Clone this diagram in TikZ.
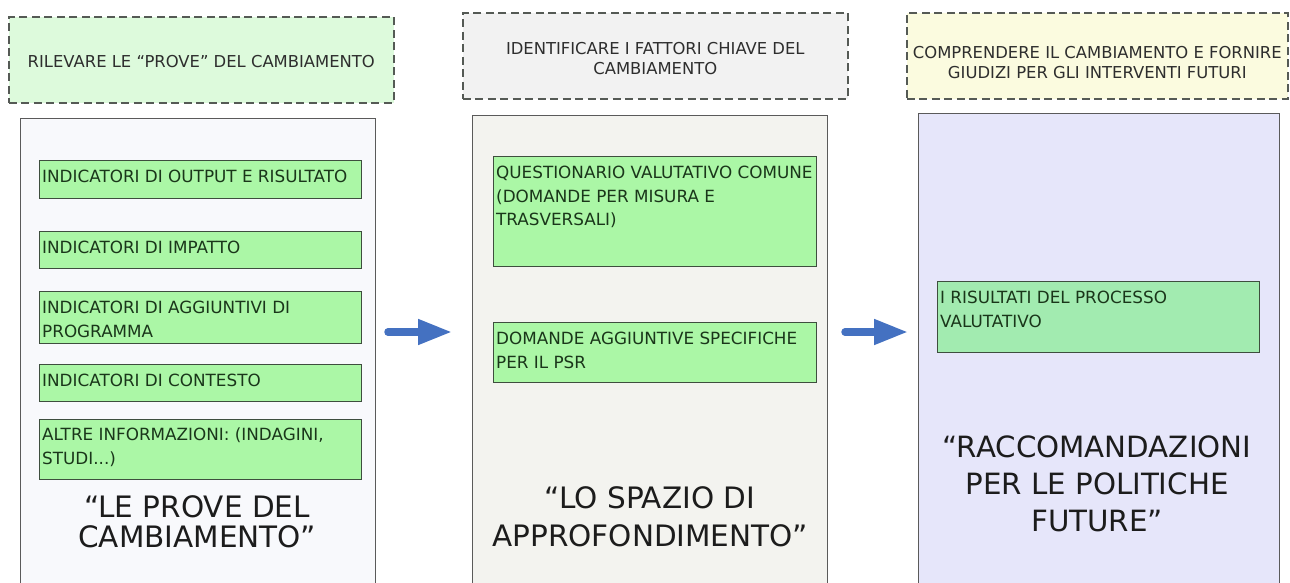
\documentclass[tikz,border=0pt]{standalone}
\usepackage{fontspec}
\setmainfont{DejaVu Sans}
\usetikzlibrary{arrows.meta,calc}
\definecolor{gfill}{HTML}{ABF7A6}
\definecolor{gfillb}{HTML}{A2EBB0}
\definecolor{gborder}{HTML}{3E4E3E}
\definecolor{gtextc}{HTML}{1A361A}
\definecolor{mborder}{HTML}{5A5A5A}
\definecolor{mfillA}{HTML}{F8F9FC}
\definecolor{mfillB}{HTML}{F3F3EF}
\definecolor{mfillC}{HTML}{E6E6FA}
\definecolor{tfillA}{HTML}{DDFADC}
\definecolor{tfillB}{HTML}{F2F2F2}
\definecolor{tfillC}{HTML}{FBFBDF}
\definecolor{tborder}{HTML}{555A55}
\definecolor{ttext}{HTML}{2E2E2E}
\definecolor{btext}{HTML}{1C1C1C}
\definecolor{arrblue}{HTML}{4471C1}
\tikzset{
  x=1pt, y=-1pt,
  titlebox/.style={draw=tborder, line width=1.6pt, dash pattern=on 8pt off 4.5pt, anchor=north west, inner sep=0pt},
  titletext/.style={align=center, text=ttext, inner sep=0pt, font=\fontsize{16.4}{20}\selectfont},
  mainbox/.style={draw=mborder, line width=1.3pt, anchor=north west, inner sep=0pt},
  gbox/.style={draw=gborder, fill=gfill, line width=1.1pt, anchor=north west, inner sep=0pt},
  gtext/.style={anchor=north west, inner sep=0pt, align=left, text=gtextc, font=\fontsize{16.8}{23.5}\selectfont},
  bigtext/.style={align=center, text=btext, inner sep=0pt},
  flowarrow/.style={draw=arrblue, line width=7.5pt, line cap=round, -{Triangle[length=34pt,width=24pt]}},
}
\begin{document}
\begin{tikzpicture}
\useasboundingbox (0,0) rectangle (1290,583);
\fill[white] (0,0) rectangle (1290,583);
% top dashed boxes
\node[titlebox, fill=tfillA, minimum width=385, minimum height=86] (t1) at (8,16) {};
\node[titlebox, fill=tfillB, minimum width=385, minimum height=86] (t2) at (462,12) {};
\node[titlebox, fill=tfillC, minimum width=381, minimum height=86] (t3) at (906,12) {};
\node[titletext] (tt1) at ($(t1.center)+(0,2)$) {RILEVARE LE “PROVE” DEL CAMBIAMENTO};
\node[titletext] (tt2) at ($(t2.center)+(0,3)$) {IDENTIFICARE I FATTORI CHIAVE DEL\\CAMBIAMENTO};
\node[titletext] (tt3) at ($(t3.center)+(0,7)$) {COMPRENDERE IL CAMBIAMENTO E FORNIRE\\GIUDIZI PER GLI INTERVENTI FUTURI};
% main boxes
\node[mainbox, fill=mfillA, minimum width=355, minimum height=470] (m1) at (20,118) {};
\node[mainbox, fill=mfillB, minimum width=355, minimum height=473] (m2) at (472,115) {};
\node[mainbox, fill=mfillC, minimum width=361, minimum height=475] (m3) at (918,113) {};
% panel 1 green boxes
\node[gbox, minimum width=322, minimum height=38] (a1) at (39,160) {};
\node[gbox, minimum width=322, minimum height=37] (a2) at (39,231) {};
\node[gbox, minimum width=322, minimum height=52] (a3) at (39,291) {};
\node[gbox, minimum width=322, minimum height=37] (a4) at (39,364) {};
\node[gbox, minimum width=322, minimum height=60] (a5) at (39,419) {};
\node[gtext] (a1t) at ($(a1.north west)+(3,10)$) {INDICATORI DI OUTPUT E RISULTATO};
\node[gtext] (a2t) at ($(a2.north west)+(3,10)$) {INDICATORI DI IMPATTO};
\node[gtext] (a3t) at ($(a3.north west)+(3,10)$) {INDICATORI DI AGGIUNTIVI DI\\PROGRAMMA};
\node[gtext] (a4t) at ($(a4.north west)+(3,10)$) {INDICATORI DI CONTESTO};
\node[gtext] (a5t) at ($(a5.north west)+(3,9)$) {ALTRE INFORMAZIONI: (INDAGINI,\\STUDI...)};
\node[bigtext, font=\fontsize{29.5}{30}\selectfont] (b1) at (197,522) {“LE PROVE DEL\\CAMBIAMENTO”};
% panel 2 green boxes
\node[gbox, minimum width=323, minimum height=110] (c1) at (493,156) {};
\node[gbox, minimum width=323, minimum height=60] (c2) at (493,322) {};
\node[gtext] (c1t) at ($(c1.north west)+(3,10)$) {QUESTIONARIO VALUTATIVO COMUNE\\(DOMANDE PER MISURA E\\TRASVERSALI)};
\node[gtext] (c2t) at ($(c2.north west)+(3,10)$) {DOMANDE AGGIUNTIVE SPECIFICHE\\PER IL PSR};
\node[bigtext, font=\fontsize{29.5}{38}\selectfont] (b2) at (650,517) {“LO SPAZIO DI\\APPROFONDIMENTO”};
% panel 3
\node[gbox, fill=gfillb, minimum width=322, minimum height=71] (e1) at (937,281) {};
\node[gtext] (e1t) at ($(e1.north west)+(3,10)$) {I RISULTATI DEL PROCESSO\\VALUTATIVO};
\node[bigtext, font=\fontsize{29.3}{37}\selectfont] (b3) at (1097,484) {“RACCOMANDAZIONI\\PER LE POLITICHE\\FUTURE”};
% arrows
\coordinate (p1s) at (388,332);
\coordinate (p1e) at (452,332);
\coordinate (p2s) at (845,332);
\coordinate (p2e) at (908,332);
\draw[flowarrow] (p1s) -- (p1e);
\draw[flowarrow] (p2s) -- (p2e);
\end{tikzpicture}
\end{document}
